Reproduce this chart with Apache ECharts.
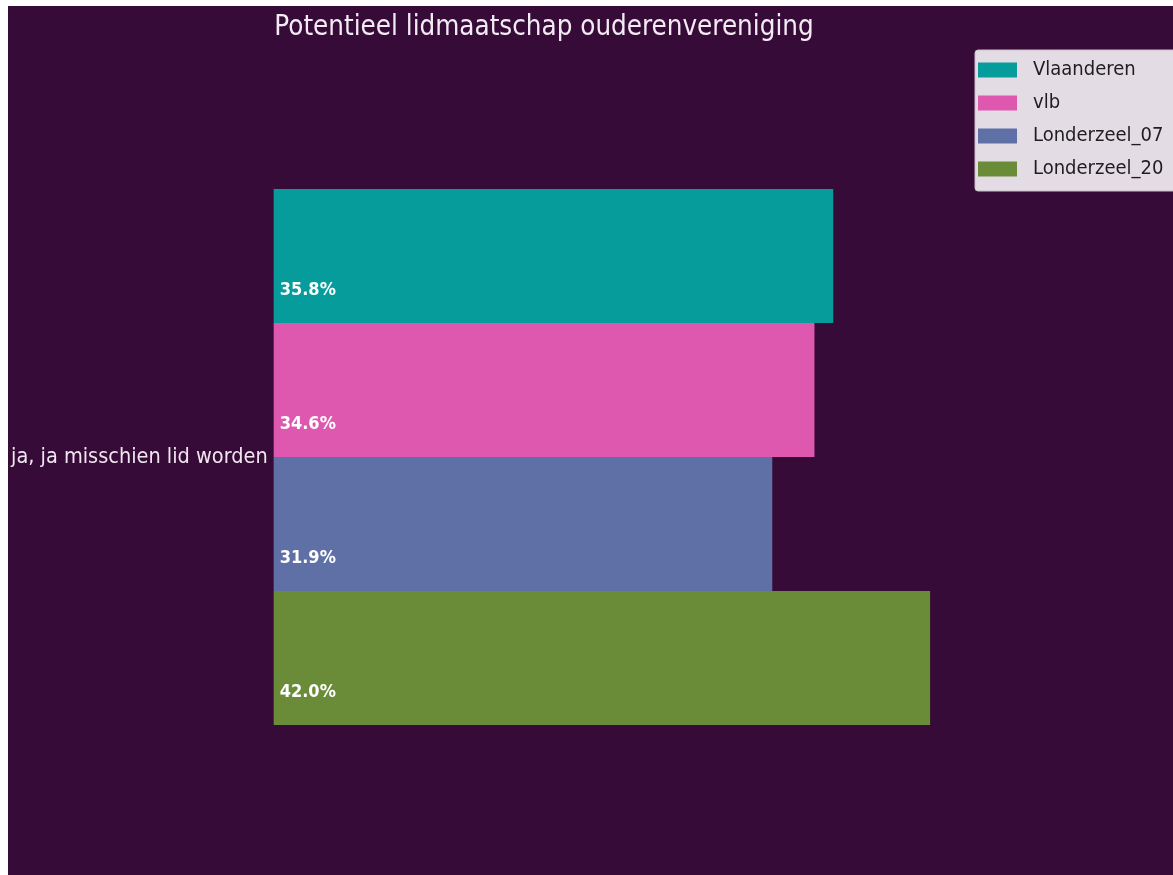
<!DOCTYPE html>
<html>
<head>
<meta charset="utf-8">
<script src="https://cdn.jsdelivr.net/npm/echarts@6/dist/echarts.min.js"></script>
<style>
  html, body { margin: 0; padding: 0; background: #ffffff; }
  #chart { position: absolute; left: 8px; top: 6px; width: 1165px; height: 869px; }
</style>
</head>
<body>
<div id="chart"></div>
<script>
// Survey answer shown on the vertical axis
const categories = ['ja, ja misschien lid worden'];
// Regions being compared (legend order, top to bottom)
const seriesNames = ['Vlaanderen', 'vlb', 'Londerzeel_07', 'Londerzeel_20'];
// Share of respondents (%) per region
const vlaanderen = [35.8];
const vlb = [34.6];
const londerzeel07 = [31.9];
const londerzeel20 = [42.0];
const seriesValues = [vlaanderen, vlb, londerzeel07, londerzeel20];
const seriesColors = ['#069c9c', '#dd58ae', '#5f70a7', '#6a8b38'];

const FONT = '"DejaVu Sans Condensed", "DejaVu Sans", sans-serif';

const chart = echarts.init(document.getElementById('chart'));

chart.setOption({
  backgroundColor: '#370b38',
  animation: false,
  title: {
    text: 'Potentieel lidmaatschap ouderenvereniging',
    left: 531,
    textAlign: 'center',
    top: 3,
    textStyle: { color: '#f3ebf3', fontSize: 27.5, fontWeight: 'normal', fontFamily: FONT }
  },
  legend: {
    data: seriesNames,
    orient: 'vertical',
    left: 967,
    top: 44,
    itemWidth: 39,
    itemHeight: 15,
    itemGap: 13,
    padding: [10, 30, 12, 3],
    backgroundColor: '#e4dce4',
    borderColor: '#c9bdc9',
    borderWidth: 1,
    borderRadius: 3,
    icon: 'rect',
    textStyle: { color: '#1e1e1e', fontSize: 20, fontFamily: FONT, padding: [0, 0, 0, 11] }
  },
  grid: { left: 265, top: 183, width: 704, height: 536, containLabel: false },
  xAxis: {
    type: 'value',
    min: 0,
    max: 45,
    show: false
  },
  yAxis: {
    type: 'category',
    data: categories,
    inverse: true,
    axisLine: { show: false },
    axisTick: { show: false },
    axisLabel: { color: '#f0e6f0', fontSize: 21.5, fontFamily: FONT, margin: 6 }
  },
  series: seriesNames.map((name, i) => ({
    name: name,
    type: 'bar',
    data: seriesValues[i],
    barGap: '0%',
    barCategoryGap: '0%',
    itemStyle: { color: seriesColors[i] },
    label: {
      show: true,
      position: 'insideLeft',
      distance: 6,
      offset: [0, 34],
      formatter: (p) => p.value.toFixed(1) + '%',
      color: '#ffffff',
      fontSize: 18,
      fontWeight: 'bold',
      fontFamily: FONT
    }
  }))
});
</script>
</body>
</html>
